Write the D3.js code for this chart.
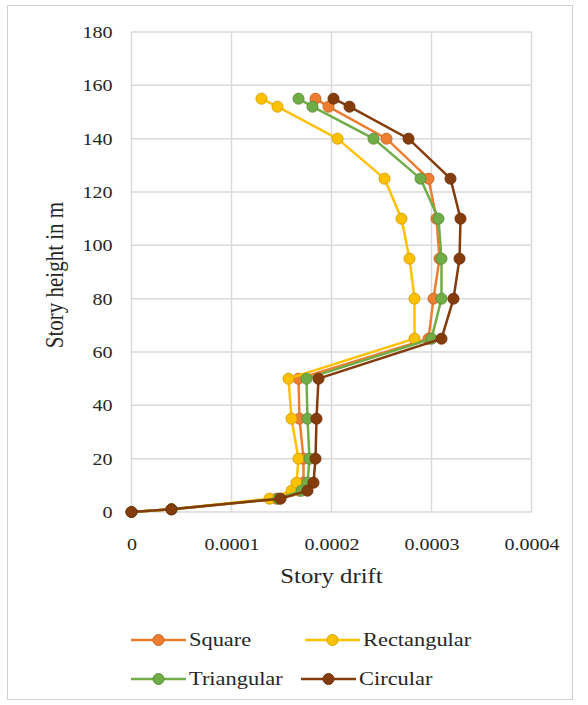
<!DOCTYPE html>
<html>
<head>
<meta charset="utf-8">
<script src="https://cdn.jsdelivr.net/npm/d3@7"></script>
<style>
  body { margin: 0; background: #fff; }
  text { font-family: "Times New Roman", "Liberation Serif", Times, serif; fill: #262626; }
</style>
</head>
<body>
<div id="chart"></div>
<script>
// story heights (m) and drift per shape
const heights = [0, 1, 5, 8, 11, 20, 35, 50, 65, 80, 95, 110, 125, 140, 152, 155]
const square = [0, 0.00004, 0.000145, 0.000168, 0.000172, 0.000172, 0.000168, 0.000167, 0.000297, 0.000302, 0.000308, 0.000305, 0.000297, 0.000255, 0.000197, 0.000184]
const rectangular = [0, 0.00004, 0.000138, 0.00016, 0.000165, 0.000167, 0.00016, 0.000157, 0.000283, 0.000283, 0.000278, 0.00027, 0.000253, 0.000206, 0.000146, 0.00013]
const triangular = [0, 0.00004, 0.000147, 0.00017, 0.000176, 0.000178, 0.000176, 0.000175, 0.0003, 0.00031, 0.00031, 0.000307, 0.000289, 0.000242, 0.000181, 0.000167]
const circular = [0, 0.00004, 0.000149, 0.000176, 0.000182, 0.000184, 0.000185, 0.000187, 0.00031, 0.000322, 0.000328, 0.000329, 0.000319, 0.000277, 0.000218, 0.000202]

const seriesNames = ["Square", "Rectangular", "Triangular", "Circular"]
const seriesColors = ["#ED7D31", "#FFC000", "#70AD47", "#843C0C"]
const xTicks = [0, 0.0001, 0.0002, 0.0003, 0.0004]
const yTicks = [0, 20, 40, 60, 80, 100, 120, 140, 160, 180]

const width = 588, height = 705
const margin = { top: 32, right: 56.5, bottom: 193, left: 131.5 }
const stretch = 1.18

const series = [square, rectangular, triangular, circular].map((vals, i) => ({
    name: seriesNames[i],
    color: seriesColors[i],
    points: vals.map((v, j) => ({ x: v, y: heights[j] }))
}))

const svg = d3.select("#chart").append("svg")
    .attr("width", width)
    .attr("height", height)

// outer frame
svg.append("rect")
    .attr("x", 7.5).attr("y", 5.5)
    .attr("width", 565).attr("height", 694)
    .attr("fill", "none")
    .attr("stroke", "#d0d0d0")
    .attr("stroke-width", 1)

const innerW = width - margin.left - margin.right
const innerH = height - margin.top - margin.bottom

const x = d3.scaleLinear().domain([0, 0.0004]).range([0, innerW])
const y = d3.scaleLinear().domain([0, 180]).range([innerH, 0])

const g = svg.append("g").attr("transform", `translate(${margin.left},${margin.top})`)

// grid
g.append("g").selectAll("line")
    .data(yTicks)
    .enter().append("line")
    .attr("x1", 0).attr("x2", innerW)
    .attr("y1", d => y(d)).attr("y2", d => y(d))
    .attr("stroke", "#d9d9d9").attr("stroke-width", 1.5)

g.append("g").selectAll("line")
    .data(xTicks)
    .enter().append("line")
    .attr("x1", d => x(d)).attr("x2", d => x(d))
    .attr("y1", 0).attr("y2", innerH)
    .attr("stroke", "#d9d9d9").attr("stroke-width", 1.5)

// axes (labels only, Excel style)
const xAxis = d3.axisBottom(x).tickValues(xTicks).tickSize(0).tickPadding(26)
    .tickFormat(d => d === 0 ? "0" : d3.format(".4f")(d))
const yAxis = d3.axisLeft(y).tickValues(yTicks).tickSize(0).tickPadding(19)

const gx = g.append("g").attr("transform", `translate(0,${innerH})`).call(xAxis)
const gy = g.append("g").call(yAxis)
gx.select(".domain").remove()
gy.select(".domain").remove()
gx.attr("font-family", null)
gy.attr("font-family", null)

gx.selectAll("text").attr("font-size", 17)
    .attr("transform", `scale(${stretch},1)`)
    .attr("x", 0)
    .each(function () {
        const t = d3.select(this.parentNode).attr("transform")
        const tx = +t.match(/translate\(([-\d.]+)/)[1]
        d3.select(this.parentNode).attr("transform", `translate(${tx},0)`)
    })
gy.selectAll("text").attr("font-size", 17)
    .attr("transform", `scale(${stretch},1)`)
    .attr("x", -19 / stretch)

// lines and markers
const line = d3.line().x(d => x(d.x)).y(d => y(d.y))

const sg = g.selectAll(".series")
    .data(series)
    .enter().append("g")
    .attr("class", "series")

sg.append("path")
    .attr("d", d => line(d.points))
    .attr("fill", "none")
    .attr("stroke", d => d.color)
    .attr("stroke-width", 2.5)

sg.selectAll("circle")
    .data(d => d.points.map(p => ({ ...p, color: d.color })))
    .enter().append("circle")
    .attr("cx", d => x(d.x))
    .attr("cy", d => y(d.y))
    .attr("r", 5.5)
    .attr("fill", d => d.color)
    .attr("stroke", d => d3.color(d.color).darker(0.5))
    .attr("stroke-width", 1)

// axis titles
svg.append("text")
    .attr("transform", `translate(${margin.left + innerW / 2},583) scale(${stretch},1)`)
    .attr("text-anchor", "middle")
    .attr("font-size", 21)
    .text("Story drift")

svg.append("text")
    .attr("transform", `translate(63,${margin.top + innerH / 2 + 3}) rotate(-90) scale(1,${stretch})`)
    .attr("text-anchor", "middle")
    .attr("font-size", 21)
    .text("Story height in m")

// legend
const legendPos = [
    { lx: 131, ly: 640 }, { lx: 305, ly: 640 },
    { lx: 131, ly: 679 }, { lx: 301, ly: 679 }
]
const lg = svg.selectAll(".legend")
    .data(series)
    .enter().append("g")
    .attr("class", "legend")
    .attr("transform", (d, i) => `translate(${legendPos[i].lx},${legendPos[i].ly})`)

lg.append("line")
    .attr("x1", 0).attr("x2", 55)
    .attr("stroke", d => d.color).attr("stroke-width", 2.5)
lg.append("circle")
    .attr("cx", 27.5).attr("r", 5.5)
    .attr("fill", d => d.color)
    .attr("stroke", d => d3.color(d.color).darker(0.5))
lg.append("text")
    .attr("transform", `translate(58,6) scale(${stretch},1)`)
    .attr("font-size", 19)
    .text(d => d.name)
</script>
</body>
</html>
